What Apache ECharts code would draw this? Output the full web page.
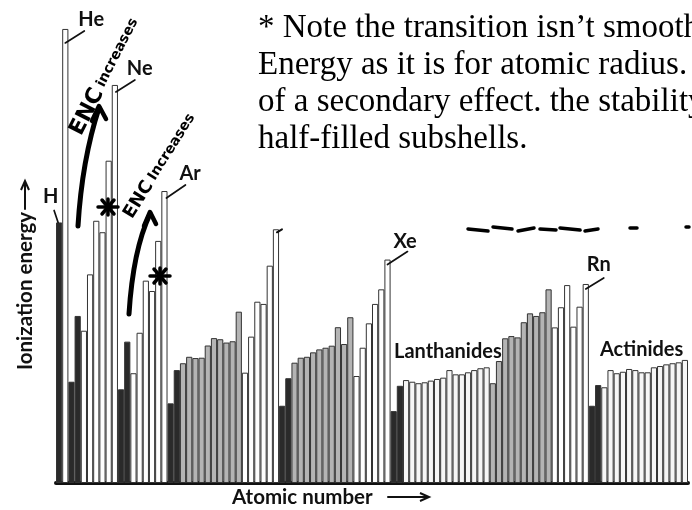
<!DOCTYPE html>
<html>
<head>
<meta charset="utf-8">
<script src="https://cdn.jsdelivr.net/npm/echarts@6/dist/echarts.min.js"></script>
<style>
html,body{margin:0;padding:0;background:#fff;}
#main{width:692px;height:510px;}
</style>
</head>
<body>
<div id="main"></div>
<script>
// Element symbols (categories, atomic numbers 1..102)
const elements = ['H','He','Li','Be','B','C','N','O','F','Ne','Na','Mg','Al','Si','P','S','Cl','Ar','K','Ca',
'Sc','Ti','V','Cr','Mn','Fe','Co','Ni','Cu','Zn','Ga','Ge','As','Se','Br','Kr','Rb','Sr','Y','Zr',
'Nb','Mo','Tc','Ru','Rh','Pd','Ag','Cd','In','Sn','Sb','Te','I','Xe','Cs','Ba','La','Ce','Pr','Nd',
'Pm','Sm','Eu','Gd','Tb','Dy','Ho','Er','Tm','Yb','Lu','Hf','Ta','W','Re','Os','Ir','Pt','Au','Hg',
'Tl','Pb','Bi','Po','At','Rn','Fr','Ra','Ac','Th','Pa','U','Np','Pu','Am','Cm','Bk','Cf','Es','Fm',
'Md','No'];

// First ionization energy (eV)
const ionizationEnergy = [
14.1,24.57,5.48,9.04,8.24,11.29,14.19,13.57,17.44,21.54,
5.07,7.65,5.94,8.13,10.95,10.39,13.10,15.80,4.31,6.11,
6.48,6.83,6.76,6.78,7.44,7.84,7.78,7.60,7.67,9.27,
5.97,7.92,9.81,9.69,11.76,13.73,4.18,5.67,6.51,6.78,
6.83,7.07,7.23,7.32,7.43,8.43,7.52,8.97,5.79,7.32,
8.64,9.69,10.48,12.09,3.89,5.26,5.57,5.48,5.40,5.45,
5.54,5.63,5.70,6.11,5.88,5.88,5.99,6.11,6.21,6.26,
5.40,6.60,7.83,7.95,7.88,8.70,9.18,9.04,9.24,10.48,
8.42,9.51,10.71,8.46,9.54,10.77,4.18,5.30,5.18,6.11,
5.94,6.02,6.17,6.11,5.99,5.99,6.26,6.33,6.42,6.48,
6.53,6.66];

// Block membership
const sBlock = ['H','Li','Be','Na','Mg','K','Ca','Rb','Sr','Cs','Ba','Fr','Ra'];
const dBlock = ['Sc','Ti','V','Cr','Mn','Fe','Co','Ni','Cu','Zn','Y','Zr','Nb','Mo','Tc','Ru','Rh','Pd','Ag','Cd',
                'Lu','Hf','Ta','W','Re','Os','Ir','Pt','Au','Hg'];
const fBlock = ['La','Ce','Pr','Nd','Pm','Sm','Eu','Gd','Tb','Dy','Ho','Er','Tm','Yb',
                'Ac','Th','Pa','U','Np','Pu','Am','Cm','Bk','Cf','Es','Fm','Md','No'];

const labelledElements = ['H','He','Ne','Ar','Xe','Rn'];

const COLORS = {s:'#2a2a2a', d:'#b4b4b4', f:'#f6f6f6', p:'#ffffff'};
function fillFor(sym){
  if (sBlock.includes(sym)) return COLORS.s;
  if (dBlock.includes(sym)) return COLORS.d;
  if (fBlock.includes(sym)) return COLORS.f;
  return COLORS.p;
}

const chart = echarts.init(document.getElementById('main'), null, {renderer:'canvas'});
const option = {
  animation:false,
  backgroundColor:'#ffffff',
  grid:{left:56,right:4,top:21,bottom:27},
  xAxis:{type:'category',data:elements,boundaryGap:true,
    axisLine:{show:true,lineStyle:{color:'#111',width:4}},
    axisTick:{show:false},axisLabel:{show:false},splitLine:{show:false}},
  yAxis:{type:'value',min:0,max:25,show:false,splitLine:{show:false}},
  series:[{
    type:'bar',
    barCategoryGap:'0%',
    itemStyle:{borderColor:'#333',borderWidth:1},
    data: ionizationEnergy.map((v,i)=>({value:v,itemStyle:{color:fillFor(elements[i])}}))
  }]
};
chart.setOption(option);

function barTop(sym){
  const i = elements.indexOf(sym);
  return chart.convertToPixel({gridIndex:0},[sym, ionizationEnergy[i]]);
}
const LABEL_FONT = {fontFamily:'Lato',fontWeight:'bold',fontSize:20,fill:'#111'};
const g = [];
const Z = 100;
function line(x1,y1,x2,y2,w,c){g.push({type:'line',z:Z,shape:{x1,y1,x2,y2},style:{stroke:c||'#111',lineWidth:w||1.5,lineCap:'round'}});}
function label(t,x,y,align){g.push({type:'text',z:Z,x,y,style:Object.assign({text:t,textAlign:align||'left',textVerticalAlign:'middle'},LABEL_FONT)});}

// element labels with leader lines: [dx1,dy1,dx2,dy2,labelDx,labelDy]
const leader = {
  H:[-5,-12,-1,0,-16,-26],
  He:[0,14,19,2,13,-9],
  Ne:[1,7,20,-5,12,-16],
  Ar:[2,7,21,-6,15,-17],
  Xe:[0,5,20,-8,6,-18],
  Rn:[0,5,18,-6,1,-19.5]
};
labelledElements.forEach(s=>{
  const p = barTop(s), o = leader[s];
  line(p[0]+o[0],p[1]+o[1],p[0]+o[2],p[1]+o[3],1.7);
  label(s,p[0]+o[4],p[1]+o[5]);
});
// Kr remnant leader tick
(function(){const p=barTop('Kr'); line(p[0]+1,p[1]+3,p[0]+6,p[1],2);})();

label('Lanthanides',394,352);
label('Actinides',600,350);

// axis titles
g.push({type:'text',z:Z,x:25,y:291,rotation:Math.PI/2,style:Object.assign({text:'Ionization energy',textAlign:'center',textVerticalAlign:'middle'},LABEL_FONT,{fontSize:20.5})});
line(25,209,25,182,2);
g.push({type:'polyline',z:Z,shape:{points:[[21,190],[25,181],[29,190]]},style:{stroke:'#111',lineWidth:2,fill:null}});
g.push({type:'text',z:Z,x:232,y:497,style:Object.assign({text:'Atomic number',textAlign:'left',textVerticalAlign:'middle'},LABEL_FONT,{fontSize:20.5})});
line(388,497,428,497,2);
g.push({type:'polyline',z:Z,shape:{points:[[420,493],[429,497],[420,501]]},style:{stroke:'#111',lineWidth:2,fill:null}});

// typed note
const note = ['* Note the transition isn\u2019t smooth for Ionization',
              'Energy as it is for atomic radius. This is because',
              'of a secondary effect. the stability of filled and',
              'half-filled subshells.'];
note.forEach((t,i)=>{
  g.push({type:'text',z:Z,x:258,y:28+i*37,style:{text:t,fontFamily:'Liberation Serif',fontSize:33,fill:'#000',textAlign:'left',textVerticalAlign:'middle'}});
});

// handwritten annotations
const hand = {fontFamily:'DejaVu Sans',fontWeight:'bold',fill:'#000'};
g.push({type:'text',z:Z,x:76,y:134,rotation:63*Math.PI/180,style:Object.assign({text:'{a|ENC} {b|increases}',textVerticalAlign:'middle',rich:{a:{fontSize:22,fontWeight:'bold',fontFamily:'DejaVu Sans'},b:{fontSize:14,fontWeight:'bold',fontFamily:'DejaVu Sans'}}},hand)});
g.push({type:'text',z:Z,x:128,y:217,rotation:58*Math.PI/180,style:Object.assign({text:'{a|ENC} {b|Increases}',textVerticalAlign:'middle',rich:{a:{fontSize:18,fontWeight:'bold',fontFamily:'DejaVu Sans'},b:{fontSize:14,fontWeight:'bold',fontFamily:'DejaVu Sans'}}},hand)});
g.push({type:'bezierCurve',z:Z,shape:{x1:78,y1:226,x2:99,y2:108,cpx1:82,cpy1:160},style:{stroke:'#000',lineWidth:5,lineCap:'round',fill:null}});
g.push({type:'polyline',z:Z,shape:{points:[[92,121],[99,106],[106,119]]},style:{stroke:'#000',lineWidth:4.5,lineCap:'round',lineJoin:'round',fill:null}});
g.push({type:'bezierCurve',z:Z,shape:{x1:129,y1:314,x2:150,y2:214,cpx1:133,cpy1:250},style:{stroke:'#000',lineWidth:5,lineCap:'round',fill:null}});
g.push({type:'polyline',z:Z,shape:{points:[[144,226],[150,212],[156,224]]},style:{stroke:'#000',lineWidth:4.5,lineCap:'round',lineJoin:'round',fill:null}});
function star(cx,cy,r){
  line(cx-r,cy,cx+r,cy,3.5,'#000'); line(cx-r*0.6,cy-r*0.7,cx+r*0.6,cy+r*0.7,3.5,'#000');
  line(cx+r*0.6,cy-r*0.7,cx-r*0.6,cy+r*0.7,3.5,'#000'); line(cx,cy-r*0.8,cx,cy+r*0.8,3.5,'#000');
}
star(108,207,10);
star(160,276,10);
// cut-off scribble at right
[[468,229,488,231],[493,227,512,229],[518,231,534,228],[540,229,556,230],[560,228,580,230],[585,231,598,229],[630,228,637,228],[686,227,689,227]].forEach(s=>line(s[0],s[1],s[2],s[3],3.5,'#000'));

chart.setOption({graphic:g});
</script>
</body>
</html>
